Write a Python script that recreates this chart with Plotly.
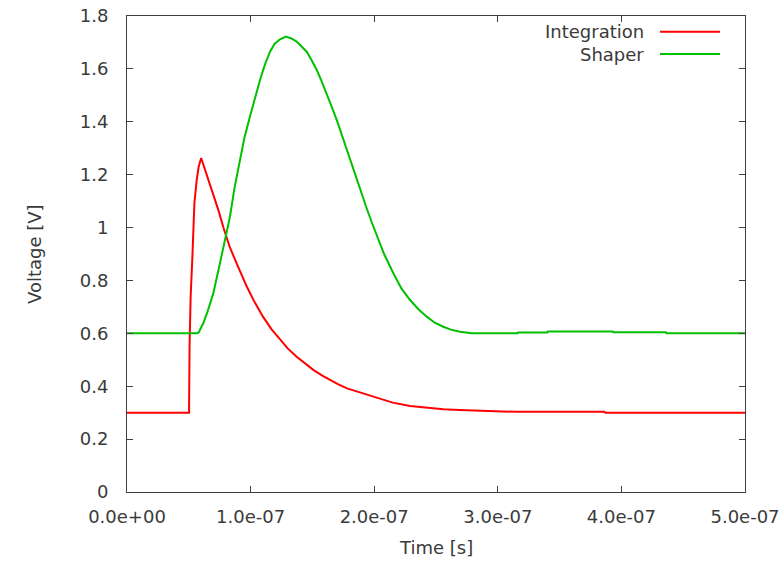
import plotly.graph_objects as go

# Integration output (time in ns, voltage in V)
integ_t_ns = [0, 50.0, 50.2, 50.6, 51.5, 53.0, 54.5, 56.4, 58.0, 60.0, 62.0, 66.0, 70.0, 74.0,
              78.0, 83.0, 90.0, 97.0, 103.0, 110.0, 117.0, 124.0, 130.0, 137.0, 144.0, 151.0,
              158.0, 164.0, 171.0, 178.0, 185.0, 191.0, 198.0, 205.0, 215.0, 229.0, 242.0,
              256.0, 269.0, 288.0, 315.0, 386.0, 387.0, 500.0]
integ_v = [0.3, 0.3, 0.3, 0.55, 0.74, 0.90, 1.09, 1.18, 1.23, 1.263, 1.235, 1.18, 1.125, 1.065,
           1.0, 0.928, 0.85, 0.776, 0.72, 0.663, 0.615, 0.575, 0.543, 0.512, 0.485, 0.461,
           0.44, 0.424, 0.407, 0.392, 0.382, 0.373, 0.362, 0.354, 0.338, 0.325, 0.318,
           0.313, 0.31, 0.306, 0.303, 0.303, 0.300, 0.300]

# Shaper output
shaper_t_ns = [0, 56.4, 58.0, 61.7, 65.0, 69.8, 75.2, 80.6, 83.3, 87.0, 91.4, 95.0, 99.5, 103.5,
               107.6, 111.5, 115.7, 119.5, 123.8, 128.6, 133.0, 137.3, 141.0, 145.4, 149.5,
               153.5, 157.5, 161.6, 165.5, 169.7, 173.8, 177.8, 181.8, 185.8, 189.9, 193.9,
               198.0, 202.0, 208.0, 215.5, 222.0, 229.0, 236.0, 242.5, 249.0, 255.9, 262.0,
               269.4, 278.9, 316.0, 316.5, 340.0, 340.5, 393.0, 393.5, 436.0, 436.5, 500.0]
shaper_v = [0.6, 0.6, 0.603, 0.638, 0.68, 0.751, 0.865, 0.98, 1.041, 1.15, 1.256, 1.34, 1.42, 1.49,
            1.558, 1.615, 1.665, 1.695, 1.712, 1.722, 1.715, 1.703, 1.685, 1.665, 1.632,
            1.596, 1.553, 1.508, 1.458, 1.407, 1.35, 1.293, 1.236, 1.18, 1.125, 1.073,
            1.02, 0.97, 0.9, 0.827, 0.77, 0.726, 0.69, 0.663, 0.64, 0.625, 0.614,
            0.606, 0.600, 0.600, 0.603, 0.603, 0.607, 0.607, 0.604, 0.604, 0.600, 0.600]

x_tick_vals = [0, 1e-7, 2e-7, 3e-7, 4e-7, 5e-7]
x_tick_text = ["0.0e+00", "1.0e-07", "2.0e-07", "3.0e-07", "4.0e-07", "5.0e-07"]
y_tick_vals = [0, 0.2, 0.4, 0.6, 0.8, 1.0, 1.2, 1.4, 1.6, 1.8]
y_tick_text = ["0", "0.2", "0.4", "0.6", "0.8", "1", "1.2", "1.4", "1.6", "1.8"]

series_names = ["Integration", "Shaper"]
series_colors = ["#ff0000", "#00c000"]

FONT = "DejaVu Sans"
TXT = "#3a3a3a"
FS = 18

fig = go.Figure()
fig.add_trace(go.Scatter(x=[t * 1e-9 for t in integ_t_ns], y=integ_v, mode="lines",
                         name=series_names[0], line=dict(color=series_colors[0], width=2),
                         showlegend=False))
fig.add_trace(go.Scatter(x=[t * 1e-9 for t in shaper_t_ns], y=shaper_v, mode="lines",
                         name=series_names[1], line=dict(color=series_colors[1], width=2),
                         showlegend=False))

axis_common = dict(showgrid=False, zeroline=False, showline=True, linecolor="#404040",
                   linewidth=1, mirror="ticks", ticks="inside", ticklen=6, tickcolor="#404040",
                   automargin=False,
                   tickfont=dict(family=FONT, size=FS, color=TXT))

fig.update_xaxes(range=[0, 5e-7], tickvals=x_tick_vals, ticktext=x_tick_text,
                 ticklabelstandoff=8, **axis_common)
fig.update_yaxes(range=[0, 1.8], tickvals=y_tick_vals, ticktext=y_tick_text,
                 ticklabelstandoff=14, **axis_common)

# axis titles
fig.add_annotation(xref="paper", yref="paper", x=-0.1505, y=0.5, text="Voltage [V]",
                   textangle=-90, showarrow=False, xanchor="center", yanchor="middle",
                   font=dict(family=FONT, size=FS, color=TXT))
fig.add_annotation(xref="paper", yref="paper", x=0.5, y=-0.1176, text="Time [s]",
                   showarrow=False, xanchor="center", yanchor="middle",
                   font=dict(family=FONT, size=FS, color=TXT))

# gnuplot-style key: text on the left, line sample on the right
key_y = [0.967, 0.920]
for name, color, ky in zip(series_names, series_colors, key_y):
    fig.add_annotation(xref="paper", yref="paper", x=0.84, y=ky, text=name, showarrow=False,
                       xanchor="right", yanchor="middle",
                       font=dict(family=FONT, size=FS, color=TXT))
    fig.add_shape(type="line", xref="paper", yref="paper", x0=0.8625, x1=0.9595, y0=ky, y1=ky,
                  line=dict(color=color, width=2))

fig.update_layout(width=784, height=561, margin=dict(l=127, r=39, t=16, b=69),
                  plot_bgcolor="white", paper_bgcolor="white",
                  font=dict(family=FONT, size=FS, color=TXT))

fig.write_html("out.html")
